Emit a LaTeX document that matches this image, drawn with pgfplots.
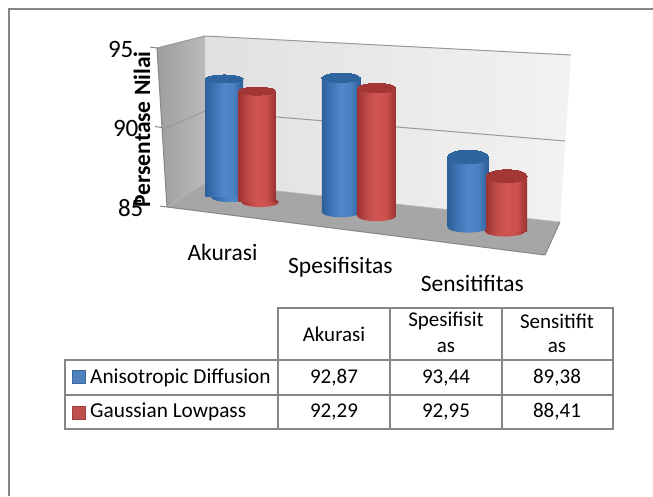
\documentclass[border=0pt]{standalone}
\usepackage{pgfplots}
\pgfplotsset{compat=1.18}
\usepackage{fontspec}
\setmainfont{Carlito}
\definecolor{edge}{HTML}{868686}
\definecolor{blueT}{HTML}{2F659F}
\definecolor{redT}{HTML}{A33735}
\definecolor{ba}{HTML}{2E5F98}\definecolor{bb}{HTML}{3F76B6}\definecolor{bc}{HTML}{4F88CA}\definecolor{bd}{HTML}{4A80C0}\definecolor{be}{HTML}{2C5C94}
\definecolor{ra}{HTML}{9E3331}\definecolor{rb}{HTML}{C04B48}\definecolor{rc}{HTML}{D15552}\definecolor{rd}{HTML}{C94F4C}\definecolor{re}{HTML}{98302E}
\definecolor{keyblue}{HTML}{4F81BD}\definecolor{keyred}{HTML}{C0504D}
\pgfdeclarehorizontalshading{cylblue}{100bp}{color(0bp)=(ba);color(25bp)=(ba);color(38bp)=(bb);color(50bp)=(bc);color(63bp)=(bd);color(75bp)=(be);color(100bp)=(be)}
\pgfdeclarehorizontalshading{cylred}{100bp}{color(0bp)=(ra);color(25bp)=(ra);color(38bp)=(rb);color(50bp)=(rc);color(63bp)=(rd);color(75bp)=(re);color(100bp)=(re)}
\pgfdeclareplotmark{cylblue}{\pgfpathcircle{\pgfpointorigin}{\pgfplotmarksize}\pgfshadepath{cylblue}{0}\pgfusepath{discard}}
\pgfdeclareplotmark{cylred}{\pgfpathcircle{\pgfpointorigin}{\pgfplotmarksize}\pgfshadepath{cylred}{0}\pgfusepath{discard}}
% #1 base centre x (px), #2 base centre y (px), #3 tilt per unit, #4 px per unit, #5 width,
% #6 value, #7 shading, #8 top colour, #9 top ellipse ratio
\newcommand\cyl[9]{%
\begin{axis}[at={(#1pt,{(496-#2)*1pt})},anchor=origin,
  x={(1pt,0pt)},y={(#3pt,#4pt)},xmin=-30,xmax=30,ymin=85,ymax=95,hide axis,clip=false,clip mode=individual]
\addplot[only marks,mark=#7,mark size={#5/2},mark options={yscale=0.27}] coordinates {(0,85)};
\addplot[ybar,bar width=#5,draw=none,shading=#7] coordinates {(0,#6)};
\addplot[only marks,mark=*,mark size={#5/2},mark options={draw=#8,fill=#8,line width=0pt,yscale=#9}] coordinates {(0,#6)};
\end{axis}}
\begin{document}
\begin{tikzpicture}
\useasboundingbox (0,0) rectangle (653pt,496pt);
\fill[white] (0,0) rectangle (653pt,496pt);
% background in pixel coordinates
\begin{axis}[at={(0,0)},anchor=south west,scale only axis,width=653pt,height=496pt,
  xmin=0,xmax=653,ymin=0,ymax=496,y dir=reverse,hide axis,clip=false]
\addplot[draw=edge,line width=1.6pt] coordinates {(9,496) (9,9) (653,9)};
\addplot[draw=none,left color=black!38,right color=black!27] coordinates {(157,48) (205,36) (205,183) (167,207)} --cycle;
\addplot[draw=none,left color=black!12,right color=black!5] coordinates {(205,36) (571,55) (560,222) (205,183)} --cycle;
\addplot[draw=none,fill=black!35] coordinates {(205,183) (560,222) (545,255) (167,207)} --cycle;
\addplot[draw=edge!85,line width=1pt] coordinates {(157,48) (205,36) (571,55)};
\addplot[draw=edge!85,line width=1pt] coordinates {(162,130) (205,111) (565,141)};
\addplot[draw=edge!60,line width=.6pt] coordinates {(167,207) (205,183) (560,222)};
\addplot[draw=edge,line width=1pt] coordinates {(545,255) (560,222)};
% data table frame
\addplot[draw=edge,line width=1.5pt] coordinates {(278,360) (278,308) (613,308) (613,429) (65,429) (65,360) (613,360)};
\addplot[draw=edge,line width=1.5pt] coordinates {(65,395) (613,395)};
\addplot[draw=edge,line width=1.5pt] coordinates {(278,360) (278,429)};
\addplot[draw=edge,line width=1.5pt] coordinates {(390,308) (390,429)};
\addplot[draw=edge,line width=1.5pt] coordinates {(502,308) (502,429)};
\addplot[draw=keyblue!80!black,fill=keyblue,line width=.8pt] coordinates {(72.5,370.5) (85.5,370.5) (85.5,383.5) (72.5,383.5)} --cycle;
\addplot[draw=keyred!80!black,fill=keyred,line width=.8pt] coordinates {(72.5,406) (85.5,406) (85.5,419) (72.5,419)} --cycle;
\node[anchor=west,font=\fontsize{21.3}{24}\selectfont,inner sep=0] at (axis cs:90,377.5) {Anisotropic Diffusion};
\node[anchor=west,font=\fontsize{21.3}{24}\selectfont,inner sep=0] at (axis cs:90,412) {Gaussian Lowpass};
\begin{scope}[every node/.style={font=\fontsize{21}{24}\selectfont,inner sep=0,anchor=center}]
\node at (axis cs:334,334) {Akurasi};
\node at (axis cs:446,321) {Spesifisit};
\node at (axis cs:446,347) {as};
\node at (axis cs:557,321) {Sensitifit};
\node at (axis cs:557,347) {as};
\node at (axis cs:334,378) {92,87};
\node at (axis cs:446,378) {93,44};
\node at (axis cs:557,378) {89,38};
\node at (axis cs:334,412) {92,29};
\node at (axis cs:446,412) {92,95};
\node at (axis cs:557,412) {88,41};
\end{scope}
\end{axis}
% value axis and category labels
\begin{axis}[at={(167pt,289pt)},anchor=origin,
  x={(126pt,-16pt)},y={(-1pt,15.9pt)},xmin=0,xmax=3,ymin=85,ymax=95,
  axis lines=left,axis line style={-,draw=edge,line width=1pt},
  xtick={0.437,1.373,2.42},xticklabels={Akurasi,Spesifisitas,Sensitifitas},
  ytick={85,90,95},tick align=outside,major tick length=7pt,
  xtick style={draw=none},ytick style={draw=edge,line width=1pt},
  /pgf/number format/assume math mode=true,
  xticklabel style={font=\fontsize{23.5}{26}\selectfont,anchor=center,yshift=-31pt},
  yticklabel style={font=\fontsize{25}{27}\selectfont,xshift=-13pt,yshift=-4pt},
  ylabel={Persentase Nilai},
  ylabel style={font=\fontsize{23.5}{26}\selectfont\bfseries,at={(axis description cs:0,0.5)},anchor=center,xshift=22pt,yshift=15pt},
  clip=false]
\end{axis}
% bars
\cyl{230}{197}{-0.76}{15}{38}{92.87}{cylblue}{blueT}{0.21}
\cyl{260}{202}{-0.41}{15.2}{37.5}{92.29}{cylred}{redT}{0.21}
\cyl{341}{212}{0}{15.9}{38.5}{93.44}{cylblue}{blueT}{0.24}
\cyl{376.7}{216}{0}{16.1}{38.5}{92.95}{cylred}{redT}{0.24}
\cyl{468}{227}{0}{16}{41.5}{89.38}{cylblue}{blueT}{0.33}
\cyl{505}{231}{0.5}{16.1}{41}{88.41}{cylred}{redT}{0.31}
\end{tikzpicture}
\end{document}
